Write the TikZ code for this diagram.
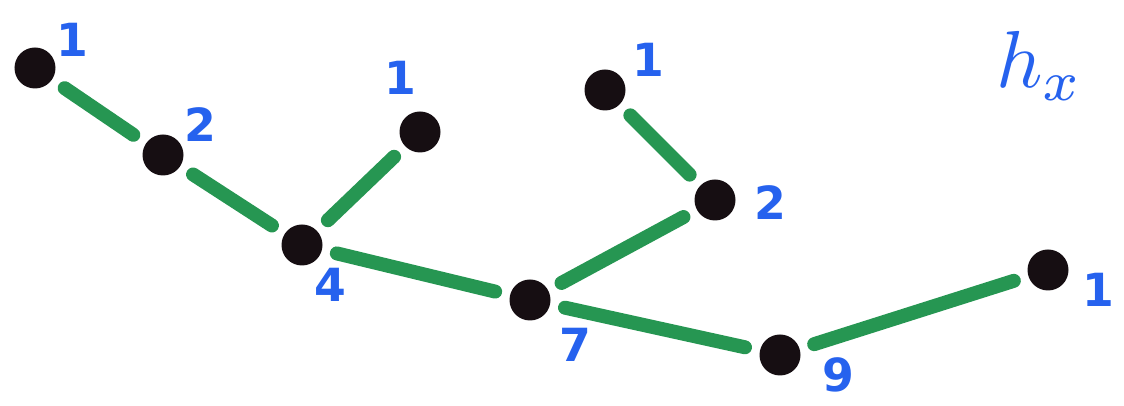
\documentclass[tikz,border=0pt]{standalone}
\usepackage{fontspec}
\setsansfont{DejaVu Sans}
\definecolor{ink}{RGB}{22,14,18}
\definecolor{branch}{RGB}{38,150,82}
\definecolor{tag}{RGB}{38,98,238}

\begin{document}
\begin{tikzpicture}[
  x=1cm,y=1cm,
  font=\sffamily,
  dot/.style={circle, fill=ink, minimum size=0.82cm, inner sep=0pt},
  edge/.style={draw=branch, line width=0.28cm, line cap=round,
               shorten <=0.3cm, shorten >=0.3cm},
  count/.style={font=\sffamily\fontsize{26}{26}\selectfont\bfseries,
                text=tag}
]
\useasboundingbox (0,0) rectangle (22.48,8.12);

% Vertices of the tree.
\node[dot] (a) at (0.70,6.76) {};
\node[dot] (b) at (3.26,5.02) {};
\node[dot] (c) at (8.40,5.48) {};
\node[dot] (d) at (6.04,3.22) {};
\node[dot] (e) at (12.10,6.32) {};
\node[dot] (f) at (14.30,4.12) {};
\node[dot] (g) at (10.60,2.12) {};
\node[dot] (h) at (15.60,1.02) {};
\node[dot] (i) at (20.96,2.72) {};

% Subtree sizes.
\node[count] (ta) at (1.44,7.32) {1};
\node[count] (tb) at (4.00,5.62) {2};
\node[count] (tc) at (8.00,6.56) {1};
\node[count] (td) at (6.60,2.42) {4};
\node[count] (te) at (12.96,6.92) {1};
\node[count] (tf) at (15.40,4.06) {2};
\node[count] (tg) at (11.50,1.22) {7};
\node[count] (th) at (16.76,0.62) {9};
\node[count] (ti) at (21.96,2.32) {1};

\node[text=tag] (hx) at (20.80,6.80) {\scalebox{4.6}{$h_x$}};

% Edges stop short of the vertices.
\draw[edge] (a) -- (b);
\draw[edge] (b) -- (d);
\draw[edge] (c) -- (d);
\draw[edge] (d) -- (g);
\draw[edge] (e) -- (f);
\draw[edge] (f) -- (g);
\draw[edge] (g) -- (h);
\draw[edge] (h) -- (i);

\end{tikzpicture}
\end{document}
